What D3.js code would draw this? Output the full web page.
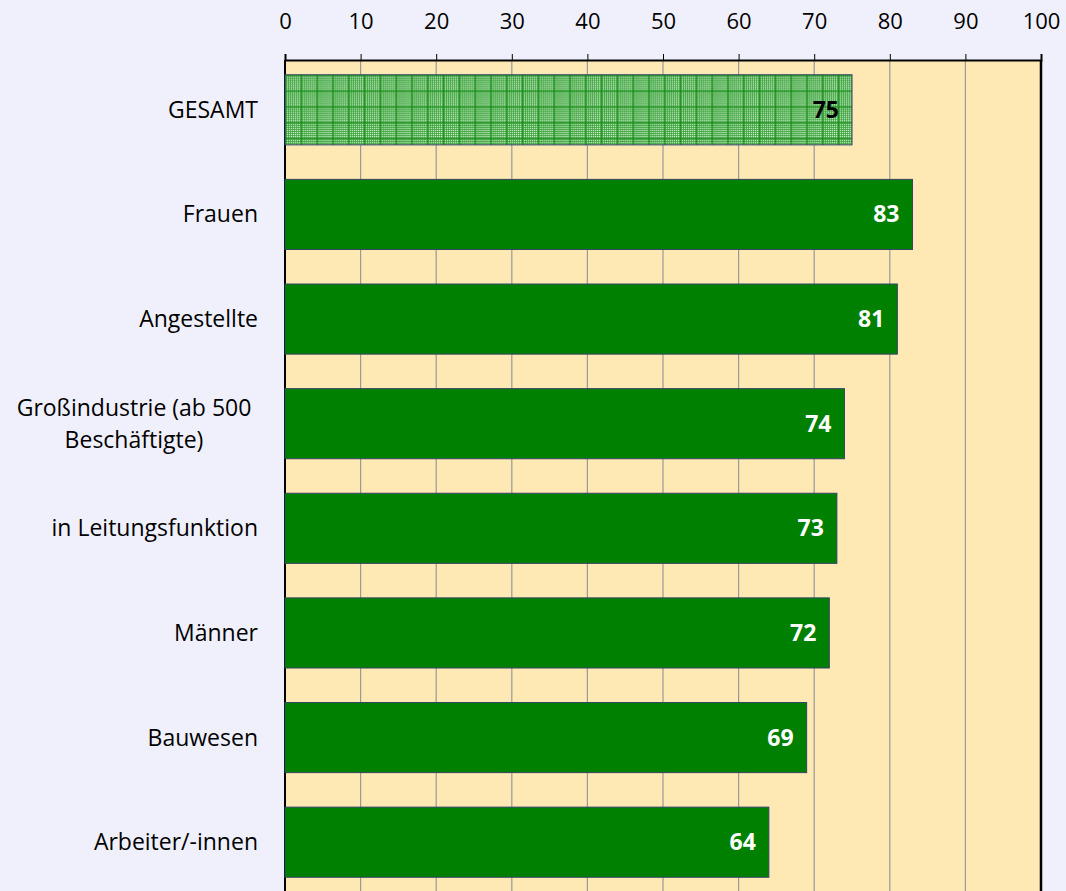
<!DOCTYPE html>
<html><head><meta charset="utf-8">
<script src="https://cdn.jsdelivr.net/npm/d3@7"></script>
<style>
html,body{margin:0;padding:0;background:#F0F0FC;overflow:hidden;}
text{font-family:"Open Sans",Lato,sans-serif;}
</style></head>
<body>
<svg id="c" width="1066" height="891"></svg>
<script>
const categories = ["GESAMT","Frauen","Angestellte","Großindustrie (ab 500|Beschäftigte)","in Leitungsfunktion","Männer","Bauwesen","Arbeiter/-innen"];
const values = [75,83,81,74,73,72,69,64];
const tickValues = [0,10,20,30,40,50,60,70,80,90,100];

(function(){
const svg = d3.select("#c");
const FONT = '"Open Sans",Lato,sans-serif';
const FS = 23;
const pLeft = 285, pRight = 1041, pTop = 60, pBottom = 897;
const x = d3.scaleLinear().domain([0,100]).range([pLeft,pRight]);
const y = d3.scaleBand().domain(categories).range([pTop-2.5,pBottom-2.5]).paddingInner(0.33).paddingOuter(0.165);

const defs = svg.append("defs");
const dot = defs.append("pattern").attr("id","dots").attr("patternUnits","userSpaceOnUse")
  .attr("width",2).attr("height",2);
dot.append("rect").attr("width",2).attr("height",2).attr("fill","#36a036");
dot.append("rect").attr("width",1).attr("height",1).attr("fill","#dcf4dc");
const grid = defs.append("pattern").attr("id","grid").attr("patternUnits","userSpaceOnUse")
  .attr("x",pLeft).attr("y",y(categories[0])).attr("width",15.8).attr("height",15.8);
grid.append("rect").attr("width",15.8).attr("height",15.8).attr("fill","url(#dots)");
grid.append("path").attr("d","M0,0V15.8M0,0H15.8").attr("stroke","#108810").attr("stroke-width",1.6).attr("fill","none");

svg.append("rect").attr("x",pLeft).attr("y",pTop).attr("width",pRight-pLeft).attr("height",pBottom-pTop).attr("fill","#FEE8B3");
svg.append("g").selectAll("line").data(tickValues.slice(1,-1)).join("line")
  .attr("x1",d=>x(d)).attr("x2",d=>x(d)).attr("y1",pTop).attr("y2",pBottom)
  .attr("stroke","#9a9a9a").attr("stroke-width",1.2);
svg.append("line").attr("x1",pLeft).attr("x2",pLeft).attr("y1",pTop).attr("y2",pBottom).attr("stroke","#000").attr("stroke-width",2);
svg.append("line").attr("x1",pRight).attr("x2",pRight).attr("y1",pTop).attr("y2",pBottom).attr("stroke","#000").attr("stroke-width",2.5);

const axis = d3.axisTop(x).tickValues(tickValues).tickSize(6).tickPadding(25);
const ag = svg.append("g").attr("transform",`translate(0,${pTop})`).call(axis);
ag.select(".domain").attr("stroke","#000").attr("stroke-width",2);
ag.selectAll(".tick line").attr("stroke","#000");
ag.selectAll(".tick text").attr("font-size",22).attr("fill","#000").attr("font-family",FONT);

svg.append("g").selectAll("rect").data(values).join("rect")
  .attr("x",x(0)).attr("y",(d,i)=>y(categories[i]))
  .attr("width",d=>x(d)-x(0)).attr("height",y.bandwidth())
  .attr("fill",(d,i)=>i===0?"url(#grid)":"#008000")
  .attr("stroke","#334466").attr("stroke-width",1);

svg.append("g").selectAll("text").data(values).join("text")
  .attr("x",d=>x(d)-13).attr("y",(d,i)=>y(categories[i])+y.bandwidth()/2)
  .attr("dy","0.35em").attr("text-anchor","end")
  .attr("font-size",FS).attr("font-weight","bold")
  .attr("fill",(d,i)=>i===0?"#000":"#fff").text(d=>d);

const lg = svg.append("g");
categories.forEach((c,i)=>{
  const cy = y(c)+y.bandwidth()/2;
  const parts = c.split("|");
  if(parts.length===1){
    lg.append("text").attr("x",258).attr("y",cy).attr("dy","0.35em").attr("text-anchor","end")
      .attr("font-size",FS).attr("fill","#000").text(c);
  } else {
    parts.forEach((p,j)=>{
      lg.append("text").attr("x",134).attr("y",cy+(j-0.5)*32).attr("dy","0.35em").attr("text-anchor","middle")
        .attr("font-size",FS).attr("fill","#000").text(p);
    });
  }
});
})();
</script>
</body></html>
